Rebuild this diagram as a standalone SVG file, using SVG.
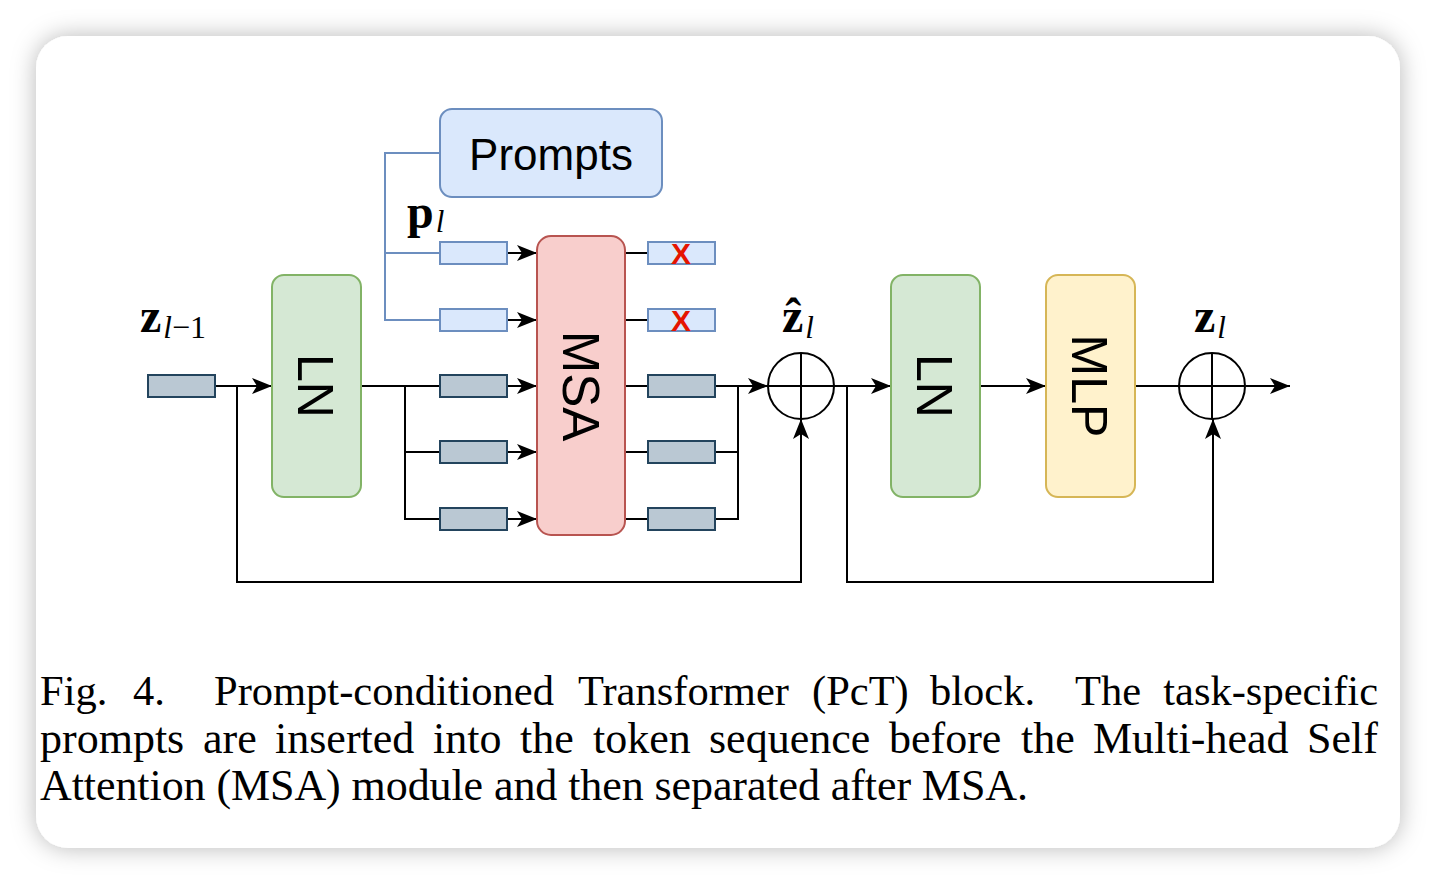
<svg xmlns="http://www.w3.org/2000/svg" width="1436" height="884" viewBox="0 0 1436 884">
<defs>
<filter id="sh" x="-10%" y="-10%" width="120%" height="120%">
<feDropShadow dx="0" dy="0" stdDeviation="12" flood-color="#000" flood-opacity="0.28"/>
</filter>
<marker id="ah" markerUnits="userSpaceOnUse" markerWidth="21" markerHeight="18" refX="20" refY="9" orient="auto">
<path d="M0,1 L20,9 L0,17 L5,9 Z" fill="#000"/>
</marker>
<style>
.box{stroke-width:2}
.ln{fill:#d5e8d4;stroke:#82b366}
.msa{fill:#f8cecc;stroke:#b85450}
.mlp{fill:#fff2cc;stroke:#d6b656}
.pr{fill:#dae8fc;stroke:#6c8ebf}
.tk{fill:#bac8d3;stroke:#23445d;stroke-width:2}
.tp{fill:#dae8fc;stroke:#6c8ebf;stroke-width:2}
.lbl{font-family:"Liberation Sans",Arial,sans-serif;fill:#000}
.c{fill:none;stroke:#000;stroke-width:2}
.cb{fill:none;stroke:#6c8ebf;stroke-width:2}
.arr{marker-end:url(#ah)}
.x{font-family:"Liberation Sans",Arial,sans-serif;font-weight:bold;font-size:30px;fill:#e51400}
.mb{font-family:"Liberation Serif","DejaVu Serif",serif;font-weight:bold;font-size:48px}
.mi{font-family:"Liberation Serif","DejaVu Serif",serif;font-style:italic;font-size:31px}
.mn{font-family:"Liberation Serif","DejaVu Serif",serif;font-size:32px}
.cap{font-family:"Liberation Serif","Times New Roman",serif;font-size:44px;fill:#000}
</style>
</defs>
<rect width="1436" height="884" fill="#fff"/>
<rect x="36" y="36" width="1364" height="812" rx="32" fill="#fff" filter="url(#sh)"/>

<g id="connectors">
<path class="c arr" d="M215,386 L272,386"/>
<path class="c arr" d="M237,386 L237,582 L801,582 L801,419"/>
<path class="c" d="M361,386 L440,386"/>
<path class="c" d="M405,386 L405,519 L440,519"/>
<path class="c" d="M405,452 L440,452"/>
<path class="c arr" d="M507,386 L537,386"/>
<path class="c arr" d="M507,452 L537,452"/>
<path class="c arr" d="M507,519 L537,519"/>
<path class="cb" d="M440,153 L385,153 L385,320 L440,320"/>
<path class="cb" d="M385,253 L440,253"/>
<path class="c arr" d="M507,253 L537,253"/>
<path class="c arr" d="M507,320 L537,320"/>
<path class="c" d="M625,253 L648,253"/>
<path class="c" d="M625,320 L648,320"/>
<path class="c" d="M625,386 L648,386"/>
<path class="c" d="M625,452 L648,452"/>
<path class="c" d="M625,519 L648,519"/>
<path class="c arr" d="M715,386 L768,386"/>
<path class="c" d="M738,386 L738,519 L715,519"/>
<path class="c" d="M715,452 L738,452"/>
<path class="c arr" d="M834,386 L891,386"/>
<path class="c arr" d="M847,386 L847,582 L1213,582 L1213,419"/>
<path class="c arr" d="M980,386 L1046,386"/>
<path class="c" d="M1135,386 L1179,386"/>
<path class="c arr" d="M1246,386 L1290,386"/>
</g>

<g id="input-token"><rect class="tk" x="148" y="375" width="67" height="22"/></g>
<g id="label-zl-1">
<text x="140" y="332"><tspan class="mb">z</tspan><tspan class="mi" dx="2" dy="6">l</tspan><tspan class="mn">−1</tspan></text>
</g>

<g id="ln1">
<rect class="box ln" x="272" y="275" width="89" height="222" rx="12"/>
<text class="lbl" font-size="50" text-anchor="middle" transform="translate(316,386) rotate(90)" y="18">LN</text>
</g>

<g id="prompts">
<rect class="box pr" x="440" y="109" width="222" height="88" rx="12"/>
<text class="lbl" font-size="44" text-anchor="middle" x="551" y="170">Prompts</text>
</g>
<g id="label-pl">
<text x="407" y="228"><tspan class="mb">p</tspan><tspan class="mi" dx="2" dy="4">l</tspan></text>
</g>

<g id="in-tokens">
<rect class="tp" x="440" y="242" width="67" height="22"/>
<rect class="tp" x="440" y="309" width="67" height="22"/>
<rect class="tk" x="440" y="375" width="67" height="22"/>
<rect class="tk" x="440" y="441" width="67" height="22"/>
<rect class="tk" x="440" y="508" width="67" height="22"/>
</g>

<g id="msa">
<rect class="box msa" x="537" y="236" width="88" height="299" rx="14"/>
<text class="lbl" font-size="51" text-anchor="middle" transform="translate(581,386) rotate(90)" y="18">MSA</text>
</g>

<g id="out-tokens">
<rect class="tp" x="648" y="242" width="67" height="22"/>
<text class="x" x="681" y="264" text-anchor="middle">X</text>
<rect class="tp" x="648" y="309" width="67" height="22"/>
<text class="x" x="681" y="331" text-anchor="middle">X</text>
<rect class="tk" x="648" y="375" width="67" height="22"/>
<rect class="tk" x="648" y="441" width="67" height="22"/>
<rect class="tk" x="648" y="508" width="67" height="22"/>
</g>

<g id="add1">
<circle cx="801" cy="386" r="33" fill="#fff" stroke="#000" stroke-width="2"/>
<path class="c" d="M768,386 L834,386 M801,353 L801,419"/>
</g>
<g id="label-zhat">
<text x="782" y="332"><tspan class="mb">ẑ</tspan><tspan class="mi" dx="2" dy="6">l</tspan></text>
</g>

<g id="ln2">
<rect class="box ln" x="891" y="275" width="89" height="222" rx="12"/>
<text class="lbl" font-size="50" text-anchor="middle" transform="translate(935,386) rotate(90)" y="18">LN</text>
</g>

<g id="mlp">
<rect class="box mlp" x="1046" y="275" width="89" height="222" rx="12"/>
<text class="lbl" font-size="50" text-anchor="middle" transform="translate(1090,386) rotate(90)" y="18">MLP</text>
</g>

<g id="add2">
<circle cx="1212" cy="386" r="33" fill="#fff" stroke="#000" stroke-width="2"/>
<path class="c" d="M1179,386 L1245,386 M1212,353 L1212,419"/>
</g>
<g id="label-zl">
<text x="1194" y="332"><tspan class="mb">z</tspan><tspan class="mi" dx="2" dy="6">l</tspan></text>
</g>

<g id="caption" class="cap">
<text y="705" font-size="42.5"><tspan x="40">Fig.</tspan><tspan x="133">4.</tspan><tspan x="214">Prompt-conditioned</tspan><tspan x="578">Transformer</tspan><tspan x="812">(PcT)</tspan><tspan x="930">block.</tspan><tspan x="1075">The</tspan><tspan x="1378" text-anchor="end">task-specific</tspan></text>
<text y="753"><tspan x="40">prompts</tspan><tspan x="203">are</tspan><tspan x="275">inserted</tspan><tspan x="433">into</tspan><tspan x="520">the</tspan><tspan x="593">token</tspan><tspan x="709">sequence</tspan><tspan x="889">before</tspan><tspan x="1021">the</tspan><tspan x="1093">Multi-head</tspan><tspan x="1378" text-anchor="end">Self</tspan></text>
<text x="40" y="800" textLength="988" lengthAdjust="spacing">Attention (MSA) module and then separated after MSA.</text>
</g>
</svg>
